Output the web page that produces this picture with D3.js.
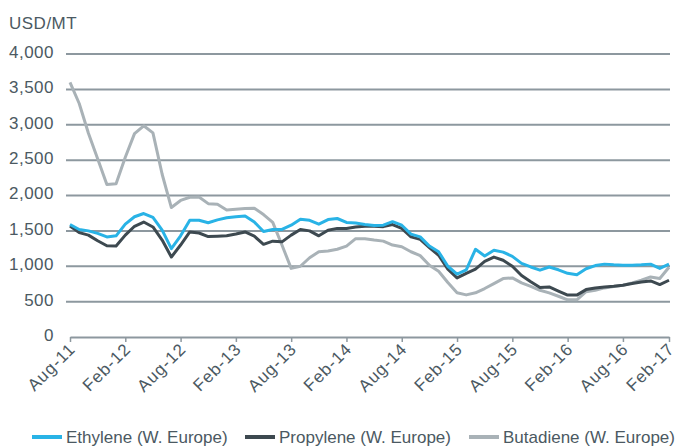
<!DOCTYPE html>
<html>
<head>
<meta charset="utf-8">
<script src="https://cdn.jsdelivr.net/npm/d3@7"></script>
<style>
  body { margin: 0; background: #fff; }
  text { font-family: "Liberation Sans", Arial, sans-serif; fill: #4b5962; }
</style>
</head>
<body>
<div id="chart"></div>
<script>
//Monthly prices, Aug-11 onwards (USD/MT)
var ethylene = [1590, 1520, 1500, 1465, 1415, 1430, 1595, 1700, 1745, 1690,
  1510, 1250, 1430, 1650, 1650, 1615, 1655, 1685, 1700, 1710,
  1625, 1490, 1520, 1520, 1580, 1665, 1650, 1595, 1660, 1675,
  1620, 1610, 1590, 1575, 1580, 1630, 1580, 1455, 1415, 1285,
  1205, 1000, 890, 950, 1240, 1145, 1225, 1200, 1140, 1040,
  990, 945, 990, 950, 900, 880, 965, 1010, 1030, 1020,
  1015, 1015, 1020, 1030, 970, 1030];
var propylene = [1570, 1475, 1440, 1360, 1290, 1285, 1440, 1565, 1625, 1555,
  1370, 1130, 1300, 1485, 1470, 1420, 1425, 1430, 1455, 1485,
  1425, 1310, 1355, 1345, 1440, 1520, 1500, 1430, 1510, 1535,
  1535, 1555, 1565, 1565, 1560, 1590, 1535, 1415, 1380, 1265,
  1155, 960, 835, 900, 960, 1070, 1130, 1085, 1000, 870,
  780, 700, 708, 650, 592, 592, 670, 694, 708, 717,
  731, 755, 778, 792, 741, 802];
var butadiene = [3600, 3300, 2880, 2520, 2155, 2165, 2540, 2875, 2985, 2885,
  2300, 1830, 1930, 1975, 1980, 1885, 1875, 1795, 1805, 1815,
  1820, 1730, 1620, 1300, 970, 1000, 1120, 1205, 1215, 1240,
  1285, 1390, 1390, 1370, 1355, 1300, 1275, 1205, 1150, 1015,
  930, 770, 625, 595, 625, 685, 755, 826, 835, 765,
  715, 660, 623, 576, 525, 525, 640, 660, 694, 715,
  731, 764, 802, 849, 826, 985];
var tickIndex = [0, 6, 12, 18, 24, 30, 36, 42, 48, 54, 60, 65];
var tickLabels = ["Aug-11", "Feb-12", "Aug-12", "Feb-13", "Aug-13", "Feb-14",
  "Aug-14", "Feb-15", "Aug-15", "Feb-16", "Aug-16", "Feb-17"];
var yTicks = [0, 500, 1000, 1500, 2000, 2500, 3000, 3500, 4000];

var series = [
  { name: "Ethylene (W. Europe)", values: ethylene, color: "#29b3e6" },
  { name: "Propylene (W. Europe)", values: propylene, color: "#3d4950" },
  { name: "Butadiene (W. Europe)", values: butadiene, color: "#a9b2b7" },
];

var width = 684,
  height = 446;

var svg = d3
  .select("#chart")
  .append("svg")
  .attr("width", width)
  .attr("height", height);

//Scales
var x = d3.scaleLinear().domain([0, ethylene.length - 1]).range([70, 669]);
var y = d3.scaleLinear().domain([0, 4000]).range([337, 54]);

//Gridlines
svg
  .append("g")
  .selectAll("line")
  .data(yTicks.slice(1))
  .enter()
  .append("line")
  .attr("x1", 66)
  .attr("x2", 670)
  .attr("y1", (d) => y(d))
  .attr("y2", (d) => y(d))
  .style("stroke", "#8d989f")
  .style("stroke-width", 2);

//Y axis labels
svg
  .append("g")
  .attr("transform", "translate(66,-2)")
  .call(d3.axisLeft(y).tickValues(yTicks).tickFormat(d3.format(",")).tickSize(0).tickPadding(12))
  .call((g) => g.select(".domain").remove())
  .selectAll("text")
  .style("font-size", "17px")
  .style("letter-spacing", "0.5px")
  .style("font-family", "Liberation Sans, Arial, sans-serif")
  .attr("fill", "#4b5962");

//X axis
var xAxis = svg
  .append("g")
  .attr("transform", "translate(0," + y(0) + ")")
  .call(
    d3
      .axisBottom(x)
      .tickValues(tickIndex)
      .tickFormat((d, i) => tickLabels[i])
      .tickSize(5)
      .tickSizeOuter(0)
  );
xAxis.select(".domain").style("stroke", "#8d989f").style("stroke-width", 2);
xAxis.selectAll(".tick line").style("stroke", "#8d989f").style("stroke-width", 1.5);
xAxis
  .selectAll(".tick text")
  .style("font-size", "17px")
  .style("letter-spacing", "1px")
  .style("font-family", "Liberation Sans, Arial, sans-serif")
  .attr("fill", "#4b5962")
  .attr("text-anchor", "end")
  .attr("dy", null)
  .attr("y", null)
  .attr("transform", "translate(6,13) rotate(-45)");

//Lines
var line = d3
  .line()
  .x((d, i) => x(i))
  .y((d) => y(d));

svg
  .append("g")
  .selectAll("path")
  .data(series.slice().reverse())
  .enter()
  .append("path")
  .attr("d", (d) => line(d.values))
  .style("fill", "none")
  .style("stroke", (d) => d.color)
  .style("stroke-width", 3)
  .style("stroke-linejoin", "round");

//Unit label
svg
  .append("text")
  .attr("x", 9)
  .attr("y", 29)
  .style("font-size", "17px")
  .style("letter-spacing", "0.5px")
  .text("USD/MT");

//Legend
var legendX = [32, 245, 469];
var legend = svg
  .append("g")
  .selectAll("g")
  .data(series)
  .enter()
  .append("g")
  .attr("transform", (d, i) => "translate(" + legendX[i] + ",437)");
legend
  .append("line")
  .attr("x1", 0)
  .attr("x2", 30)
  .style("stroke", (d) => d.color)
  .style("stroke-width", 4);
legend
  .append("text")
  .attr("x", 34)
  .attr("dy", "0.35em")
  .style("font-size", "17px")
  .text((d) => d.name);
</script>
</body>
</html>
